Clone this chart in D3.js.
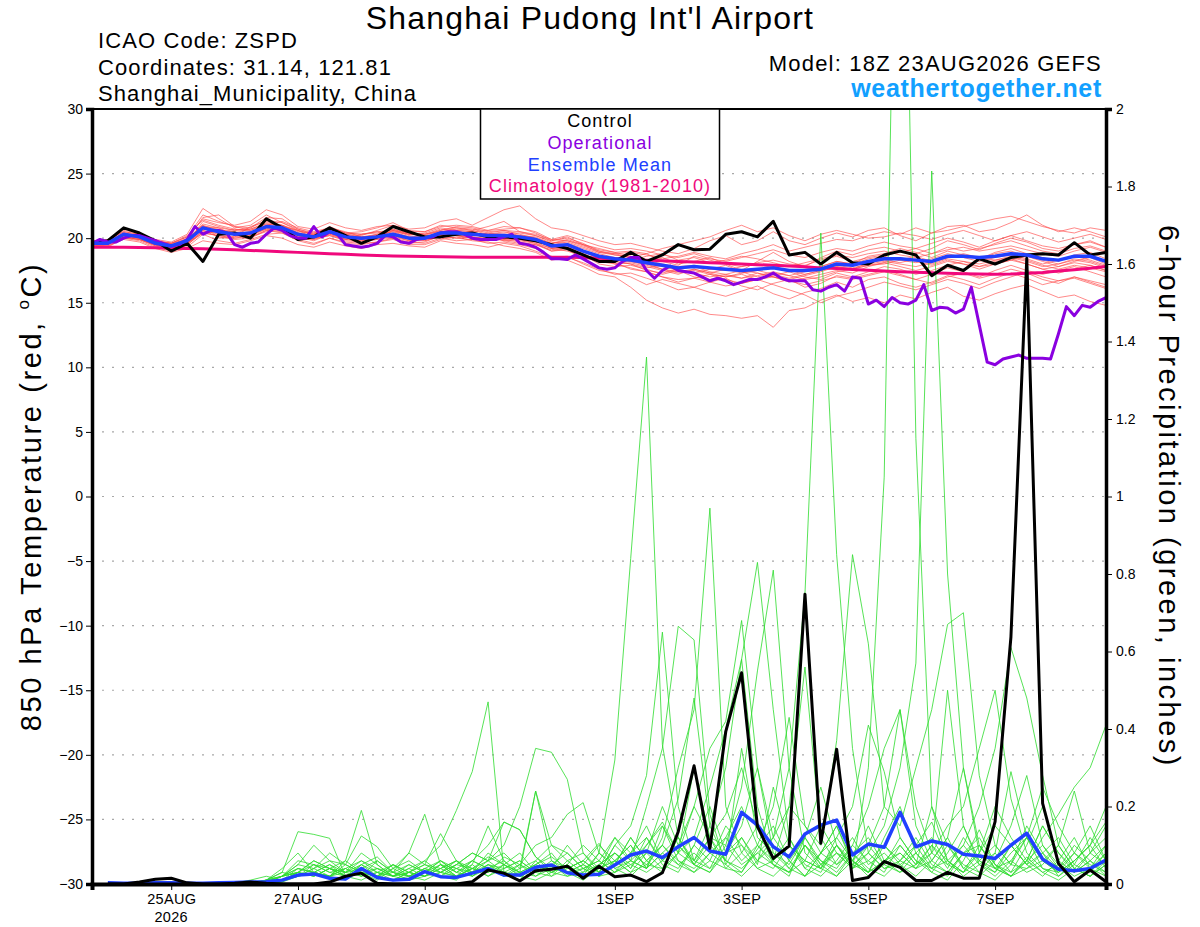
<!DOCTYPE html>
<html>
<head>
<meta charset="utf-8">
<script src="https://cdn.jsdelivr.net/npm/d3@7"></script>
<style>
  body { margin: 0; background: #fff; }
  text { font-family: "Liberation Sans", Arial, Helvetica, sans-serif; }
</style>
</head>
<body>
<div id="chart"></div>
<script>
// ---- data ----
const runStart = new Date(Date.UTC(2026, 7, 23, 18));   // 18Z 23AUG2026, 6-hourly to 384h

const tickDays   = ["2026-08-25", "2026-08-27", "2026-08-29", "2026-09-01", "2026-09-03", "2026-09-05", "2026-09-07"];
const tickLabels = ["25AUG", "27AUG", "29AUG", "1SEP", "3SEP", "5SEP", "7SEP"];
const tempTicks   = [-30, -25, -20, -15, -10, -5, 0, 5, 10, 15, 20, 25, 30];
const precipTicks = [0, 0.2, 0.4, 0.6, 0.8, 1, 1.2, 1.4, 1.6, 1.8, 2];
const legendItems = ["Control", "Operational", "Ensemble Mean", "Climatology (1981-2010)"];

// 850 hPa temperature, control run (6-hourly, 0..384h)
const controlTemp = [19.6,19.8,20.8,20.4,19.8,19.0,19.6,18.2,20.3,20.4,20.0,21.5,20.8,19.9,20.1,20.8,20.2,19.6,20.1,20.9,20.5,
  20.1,20.1,20.3,20.4,20.1,20.1,20.0,19.8,19.5,19.2,18.7,18.2,18.2,18.9,18.2,18.7,19.5,19.1,19.15,20.3,20.5,20.1,21.3,
  18.7,18.9,18.0,18.9,18.1,18.0,18.7,19.0,18.7,17.1,17.9,17.5,18.4,18.0,18.5,18.7,18.8,18.7,19.65,18.7,18.9];

// ensemble mean temperature
const meanTemp = [19.6,19.6,20.3,20.1,19.6,19.4,19.8,20.8,20.5,20.3,20.4,20.9,20.8,20.3,20.1,20.5,20.1,20.0,20.1,20.3,20.0,
  20.0,20.4,20.4,20.3,20.2,20.2,20.1,19.9,19.4,19.5,19.0,18.6,18.4,18.3,18.1,17.9,17.7,17.8,17.7,17.6,17.5,17.6,17.7,
  17.5,17.5,17.6,18.0,17.9,18.2,18.4,18.4,18.3,18.2,18.6,18.6,18.5,18.6,18.8,18.7,18.4,18.3,18.6,18.6,18.2];

// climatology (1981-2010)
const climTemp = [19.3,19.3,19.3,19.28,19.25,19.22,19.2,19.18,19.15,19.1,19.05,19.0,18.95,18.9,18.85,18.8,18.75,18.7,18.65,18.62,
  18.6,18.58,18.56,18.55,18.53,18.52,18.52,18.52,18.53,18.53,18.52,18.5,18.45,18.4,18.35,18.3,18.25,18.2,18.15,18.1,
  18.05,18.0,17.95,17.9,17.85,17.78,17.7,17.65,17.58,17.52,17.46,17.4,17.36,17.32,17.28,17.25,17.22,17.2,17.22,17.28,
  17.35,17.45,17.55,17.67,17.8];

// operational run temperature (3-hourly, 0..384h)
const operTemp = [19.6,19.9,19.7,19.7,20.0,20.2,20.2,20.0,19.8,19.6,19.4,19.5,19.9,20.9,20.3,20.6,20.6,20.4,19.5,19.3,
  19.6,19.7,20.3,20.8,20.6,20.2,20.0,20.0,20.9,20.1,20.5,20.3,19.5,19.4,19.3,19.4,19.6,20.2,20.1,19.7,
  19.6,19.9,20.0,20.1,20.4,20.5,20.5,20.3,20.0,19.9,19.9,19.9,20.1,20.3,19.6,19.5,19.3,18.9,18.4,18.4,
  18.35,18.7,18.4,18.05,17.7,17.6,17.7,18.2,18.5,18.5,17.5,16.9,17.5,17.85,17.5,17.4,17.3,17.0,16.7,16.9,
  16.7,16.4,16.6,16.8,16.8,17.0,17.3,16.9,16.7,16.7,16.7,16.0,15.9,16.2,16.4,15.9,17.0,16.9,14.9,15.2,
  14.7,15.4,15.0,14.9,15.2,16.4,14.4,14.65,14.6,14.2,14.5,16.2,13.3,10.4,10.2,10.65,10.8,10.95,10.7,10.7,
  10.7,10.65,12.6,14.7,14.0,14.8,14.65,15.1,15.4];

// ensemble member temperatures
const memberTemp = [
  [19.8,19.9,20.5,20.3,19.9,19.7,20.3,22.3, 21.5,20.8,21.0,21.8,21.2,20.6,20.2,20.9,20.4,20.5,20.8,21.2,20.6,
   20.5,21.0,20.8,20.6,20.9,21.3,20.5,20.2,19.8,20.1,19.5,18.9,18.7,18.5, 18.8,18.2,17.9,18.6,18.3,18.0,17.5,18.2,18.9,18.2,17.8,18.5,19.0,18.7,19.1,
   19.3,19.0,18.8,19.2,19.8,19.5,19.1,19.6,20.0,19.7,19.2,19.0,19.5,19.8,19.3],
  [19.3,19.4,19.9,19.7,19.2,18.9,19.2,19.8, 19.6,19.5,19.8,20.2,20.0,19.5,19.3,19.7,19.4,19.2,19.5,19.6,19.4,
   19.3,19.8,19.6,19.5,19.3,19.6,19.4,19.0,18.5,18.6,18.0,17.5,17.3,17.0, 16.4,16.8,16.5,16.2,16.6,16.9,16.3,16.0,16.5,16.8,16.2,16.5,17.1,16.9,17.2,
   17.5,17.2,16.8,16.5,17.0,17.3,16.9,17.2,17.6,17.3,16.8,16.5,17.0,16.7,16.4],
  [19.5,19.5,20.1,19.9,19.4,19.3,19.6,20.4, 20.2,20.0,20.1,20.6,20.5,20.0,19.9,20.2,19.8,19.7,19.9,20.0,19.7,
   19.6,20.0,19.8,19.9,19.6,19.7,19.5,19.2,18.6,18.3,17.8,17.2,17.0,16.2, 15.2,14.6,14.2,14.5,14.1,14.0,13.8,14.0,13.1,14.4,14.6,15.2,15.6,15.1,15.4,
   15.0,15.6,15.3,15.8,16.2,15.5,15.2,15.7,16.1,16.4,15.9,15.4,15.6,15.1,14.8],
  [19.7,19.8,20.6,20.4,19.8,19.6,20.1,21.5, 21.2,21.0,21.3,22.2,21.8,20.9,20.7,21.2,20.8,20.6,20.9,21.0,20.7,
   20.8,21.3,21.5,21.0,21.6,22.2,22.5,21.5,20.8,20.6,20.2,19.8,19.5,19.6, 19.3,19.0,18.8,19.2,19.8,20.2,19.5,19.8,20.5,19.8,19.5,20.0,20.4,20.1,20.6,
   20.8,20.2,19.8,20.4,20.9,21.0,20.5,20.7,21.2,21.8,21.0,20.5,20.8,20.5,20.1],
  [19.4,19.5,20.2,20.0,19.5,19.2,19.5,20.9, 20.8,20.2,20.1,20.5,20.9,20.6,20.0,20.2,19.9,20.3,20.5,20.2,19.9,
   20.1,20.3,20.6,20.5,20.0,19.8,19.6,19.5,19.1,19.3,18.7,18.0,17.8,17.9, 17.6,17.2,17.5,17.0,16.8,17.1,16.9,17.3,17.0,16.6,16.9,17.2,17.5,17.3,17.8,
   18.1,18.5,18.2,17.9,18.3,18.0,17.8,18.2,18.4,18.0,17.6,17.8,18.1,17.9,17.5],
  [19.6,19.7,20.4,20.2,19.7,19.5,20.0,21.0, 20.0,20.1,20.9,21.3,21.0,20.5,20.4,20.8,20.5,20.1,20.0,20.6,20.3,
   20.2,20.6,20.9,20.8,20.5,20.6,20.3,20.0,19.6,19.8,19.5,19.2,18.9,18.6, 18.3,18.5,18.0,18.2,18.5,18.0,17.8,18.1,18.3,18.0,17.9,18.3,18.6,18.2,18.5,
   18.7,18.9,19.2,18.8,19.1,19.3,19.0,19.2,19.4,19.1,18.8,18.6,19.0,19.3,18.9],
  [19.5,19.4,20.0,19.8,19.3,19.0,19.3,20.3, 19.8,19.6,19.9,20.3,20.4,19.9,19.6,20.0,19.6,19.5,19.7,19.9,19.5,
   19.5,19.9,20.1,19.8,19.7,19.4,19.2,18.9,18.3,18.5,18.1,17.6,17.2,17.3, 16.9,16.5,16.0,16.2,15.8,15.5,15.9,16.3,15.7,15.3,15.8,16.1,16.6,16.2,16.8,
   17.0,16.5,16.2,16.6,17.1,16.8,16.4,16.9,17.3,16.9,16.4,16.7,17.0,16.6,16.2],
  [19.7,19.6,20.3,20.2,19.7,19.6,19.9,20.7, 20.6,20.5,20.3,20.7,20.6,20.1,20.3,20.6,20.2,20.0,20.2,20.5,20.3,
   20.3,20.5,20.3,20.2,20.4,20.1,20.0,19.8,19.5,19.7,19.3,18.9,18.8,18.9, 18.7,18.4,18.6,18.9,18.6,18.4,18.8,19.1,19.5,19.0,19.3,19.6,19.9,19.8,20.2,
   20.5,20.3,20.8,20.4,20.6,20.9,21.2,21.5,21.7,21.3,20.9,20.6,20.4,20.8,20.6],
  [19.5,19.7,20.2,20.0,19.6,19.3,19.6,20.5, 20.4,20.7,20.6,21.1,21.0,20.4,20.0,20.4,19.9,19.8,19.9,20.4,20.1,
   19.8,20.2,20.0,20.1,19.9,20.3,20.2,20.0,19.2,19.0,18.6,18.5,18.0,18.1, 17.8,17.5,17.2,17.6,17.3,17.0,17.2,16.8,17.1,17.4,17.0,16.8,17.3,17.0,17.4,
   17.8,17.6,17.2,17.5,17.9,18.2,17.8,18.0,18.3,18.6,18.2,17.8,18.2,18.5,18.0],
  [19.6,19.5,20.2,20.0,19.5,19.2,19.6,21.3, 20.9,20.6,20.8,21.4,21.2,20.7,20.3,20.7,20.3,20.1,20.3,20.7,20.3,
   20.4,20.8,20.6,20.5,20.6,20.7,20.8,20.4,19.8,20.0,19.6,19.0,18.8,18.5, 18.0,17.8,17.5,17.3,17.6,17.9,17.4,17.0,17.3,17.1,17.4,17.8,18.2,18.0,18.6,
   18.8,19.2,18.9,18.5,19.0,18.7,18.4,18.9,19.2,18.8,18.5,18.2,18.7,18.9,18.4],
  [19.4,19.3,20.0,19.9,19.4,19.1,19.4,20.6, 20.1,19.9,20.0,20.6,20.4,19.8,19.5,20.0,19.7,19.6,19.7,20.0,19.6,
   19.7,20.2,20.3,20.4,20.1,19.9,19.7,19.5,19.0,19.2,18.8,18.3,18.1,17.6, 17.4,17.0,16.8,16.9,16.6,16.3,16.5,16.8,16.4,16.0,15.6,15.0,15.5,15.8,16.2,
   16.6,16.3,16.0,16.4,16.8,16.5,16.1,16.6,17.0,17.4,17.0,16.7,16.9,16.5,16.1],
  [19.8,19.8,20.5,20.3,19.8,19.6,20.1,21.8, 21.3,20.9,20.6,21.0,21.3,20.8,20.5,20.8,20.4,20.3,20.5,20.6,20.2,
   20.0,20.5,20.7,20.6,20.3,20.4,20.4,20.2,19.7,19.6,19.2,18.8,18.5,18.3, 18.6,18.8,18.3,18.5,18.1,18.3,18.6,18.4,18.1,17.8,18.1,18.4,18.7,18.5,18.8,
   19.0,18.7,18.5,18.8,19.3,19.0,19.2,19.5,19.8,19.4,19.0,18.8,19.2,19.4,19.0],
  [19.5,19.6,20.1,19.9,19.5,19.3,19.7,20.9, 20.7,20.4,20.2,20.8,20.7,20.2,20.0,20.3,20.0,19.9,20.1,20.3,20.0,
   20.0,20.4,20.2,20.0,20.2,19.8,19.9,19.6,19.2,19.4,19.0,18.4,18.2,18.0, 17.5,17.3,17.6,17.8,17.4,17.2,16.9,17.1,17.4,17.1,16.8,17.0,17.4,17.6,17.9,
   18.0,18.3,18.6,18.2,18.5,18.8,18.5,18.3,18.6,18.3,17.9,17.6,17.9,17.7,17.4],
  [19.7,19.7,20.4,20.2,19.6,19.5,19.9,21.0, 20.6,20.4,20.7,21.1,20.9,20.4,20.2,20.6,20.2,20.1,20.2,20.6,20.4,
   20.3,20.7,20.5,20.4,20.3,20.5,20.2,20.1,19.6,19.9,19.5,19.1,18.9,19.0, 18.8,19.2,19.5,19.8,20.1,20.6,21.0,20.5,20.8,20.2,19.8,20.3,20.6,20.3,20.0,
   20.1,20.4,20.2,19.9,20.3,20.6,20.2,19.8,20.2,20.5,20.1,19.7,20.0,20.3,19.9],
  [19.5,19.6,20.3,20.0,19.5,19.3,19.6,20.6, 20.3,20.1,20.3,20.8,20.6,20.1,19.8,20.3,19.9,19.8,20.0,20.2,19.8,
   19.9,20.3,20.2,20.0,19.8,20.0,19.8,19.6,19.0,19.1,18.5,18.2,18.0,17.7, 17.4,17.0,16.6,16.9,17.2,16.8,16.5,16.8,17.0,16.7,16.4,16.7,17.0,16.8,17.1,
   17.4,17.1,16.8,17.2,17.7,17.4,17.0,17.5,17.9,17.5,17.2,17.5,17.8,17.4,17.0],
  [19.6,19.6,20.2,20.1,19.6,19.4,19.8,21.1, 20.8,20.6,20.7,21.2,21.0,20.6,20.3,20.8,20.4,20.3,20.4,20.7,20.4,
   20.3,20.6,20.8,20.7,20.4,20.6,20.5,20.3,19.9,19.8,19.4,19.0,18.7,18.6, 18.3,18.0,17.8,17.9,17.6,17.5,17.8,18.0,17.7,17.4,17.6,17.8,18.2,18.0,18.4,
   18.6,18.3,18.1,18.4,18.8,18.5,18.2,18.5,18.7,18.4,18.0,18.3,18.6,18.3,17.9],
  [19.7,19.8,20.3,20.2,19.8,19.6,20.2,21.4, 21.0,20.7,20.5,20.9,20.8,20.3,20.1,20.4,20.1,20.0,20.3,20.5,20.1,
   20.1,20.5,20.4,20.3,20.1,20.2,20.0,19.9,19.4,19.5,19.0,18.6,18.3,18.2, 18.0,17.6,17.4,17.6,17.3,17.6,17.3,17.5,17.8,17.5,17.2,17.5,17.9,17.7,18.0,
   18.2,18.0,17.8,18.1,18.5,18.7,18.4,18.8,19.0,18.6,18.3,18.0,18.4,18.2,17.8],
  [19.4,19.5,20.1,19.9,19.5,19.2,19.5,20.4, 20.2,20.0,20.2,20.7,20.6,20.2,19.9,20.4,20.0,19.9,20.0,20.1,19.8,
   19.8,20.1,20.0,19.9,20.0,19.9,20.0,19.8,19.3,19.2,18.7,18.3,18.2,18.0, 17.7,17.9,17.6,17.3,17.0,17.2,17.5,17.3,17.0,16.8,17.1,17.4,17.8,17.6,18.1,
   18.3,18.1,18.4,18.0,18.4,18.2,18.0,18.3,18.5,18.2,17.8,18.0,18.3,18.1,17.7],
  [19.6,19.7,20.4,20.1,19.6,19.4,19.9,21.6, 21.8,20.9,20.8,21.6,21.5,20.7,20.4,20.7,20.3,20.2,20.6,21.0,20.5,
   20.5,20.9,21.0,20.9,20.6,20.9,20.8,20.5,19.9,20.2,19.8,19.4,19.1,19.2, 19.0,18.7,18.5,18.8,18.4,18.2,18.5,18.8,19.1,18.7,18.5,18.9,19.2,19.0,19.4,
   19.7,19.4,19.2,19.6,20.0,19.7,19.3,19.8,20.2,19.8,19.4,19.2,19.5,19.7,19.3],
  [19.5,19.5,20.2,20.0,19.5,19.3,19.7,20.8, 20.5,20.3,20.4,20.9,20.7,20.2,20.0,20.4,20.1,19.9,20.1,20.3,20.0,
   20.0,20.3,20.2,20.1,20.0,20.0,19.9,19.7,19.2,19.3,18.9,18.5,18.3,18.2, 17.9,17.6,17.3,17.5,17.2,17.0,17.3,17.5,17.2,16.9,17.2,17.5,17.8,17.6,17.9,
   18.1,17.8,17.5,17.8,18.2,18.0,17.6,18.0,18.3,18.0,17.6,17.3,17.6,17.9,17.5]
];

// 6-hour precipitation (inches), steps 6h..384h
const controlPrecip = [0,0,0.005,0.012,0.015,0.003,0,0,0.002,0.005, 0.002,0,0,0,0.005,0.02,0.028,0.002,0,0,
  0,0,0,0.006,0.036,0.028,0.008,0.034,0.038,0.046, 0.015,0.046,0.019,0.023,0.006,0.029,0.135,0.305,0.092,0.393,
  0.545,0.148,0.066,0.098,0.748,0.105,0.348,0.009,0.017,0.058, 0.043,0.009,0.009,0.03,0.015,0.015,0.161,0.638,1.615,0.208,
  0.053,0.006,0.036,0.006];

const meanPrecip = [0.003,0.002,0.002,0.003,0.003,0.002,0.002,0.003,0.004,0.005, 0.006,0.01,0.023,0.026,0.015,0.013,0.04,0.017,0.01,0.012,
  0.032,0.019,0.017,0.028,0.04,0.023,0.023,0.043,0.049,0.029, 0.023,0.025,0.049,0.075,0.085,0.068,0.096,0.12,0.085,0.077,
  0.185,0.152,0.096,0.07,0.129,0.152,0.165,0.075,0.103,0.095, 0.185,0.096,0.111,0.102,0.077,0.072,0.066,0.1,0.131,0.064,
  0.038,0.034,0.04,0.062];

const memberPrecip = [
  [0,0,0,0,0,0,0,0,0,0.005, 0.01,0.03,0.135,0.128,0.118,0.02,0.01,0.03,0.01,0.02, 0.04,0.02,0.01,0.05,0.15,0.06,0.02,0.01,0.03,0.05,
   0.02,0.08,0.32,0.84,1.36,0.36,0.12,0.05,0.03,0.08, 0.1,0.04,0.02,0.06,0.12,0.05,0.02,0.08,0.04,0.02, 0.06,0.1,0.04,0.02,0.08,0.03,0.01,0.05,0.12,0.06, 0.03,0.08,0.04,0.1],
  [0,0,0,0,0,0,0,0,0.003,0.01, 0.02,0.01,0.04,0.03,0.02,0.06,0.19,0.05,0.02,0.01, 0.03,0.06,0.04,0.02,0.05,0.03,0.01,0.06,0.02,0.04,
   0.06,0.03,0.1,0.15,0.28,0.65,0.2,0.06,0.12,0.04, 0.03,0.09,0.15,0.06,0.02,0.05,0.1,0.04,0.3,1.05, 3.3,1.15,0.2,0.06,0.03,0.1,0.05,0.02,0.04,0.08, 0.02,0.05,0.12,0.06],
  [0,0,0,0,0,0,0,0,0,0, 0.005,0.02,0.06,0.05,0.03,0.02,0.04,0.02,0.01,0.03, 0.06,0.1,0.19,0.29,0.47,0.03,0.02,0.05,0.08,0.03,
   0.01,0.04,0.12,0.06,0.2,0.35,0.665,0.63,0.18,0.05, 0.02,0.06,0.1,0.04,0.02,0.08,0.15,0.05,0.03,0.12, 0.2,0.08,0.03,0.01,0.06,0.14,0.05,0.02,0.07,0.03, 0.01,0.04,0.02,0.05],
  [0,0,0,0,0,0,0,0,0,0.002, 0.01,0.04,0.08,0.03,0.02,0.01,0.05,0.07,0.03,0.02, 0.01,0.03,0.05,0.08,0.06,0.1,0.2,0.35,0.34,0.27,
   0.08,0.03,0.05,0.12,0.06,0.1,0.22,0.48,0.15,0.06, 0.03,0.1,0.05,0.02,0.12,0.25,0.1,0.04,0.08,0.15, 0.3,0.57,1.84,0.8,0.3,0.1,0.04,0.02,0.06,0.15, 0.08,0.03,0.06,0.02],
  [0,0,0,0,0,0,0,0,0,0, 0.01,0.02,0.03,0.06,0.04,0.02,0.03,0.01,0.04,0.08, 0.18,0.05,0.02,0.04,0.03,0.07,0.05,0.02,0.04,0.1,
   0.05,0.02,0.06,0.1,0.04,0.12,0.3,0.45,0.97,0.2, 0.08,0.15,0.05,0.03,0.1,0.04,0.02,0.06,0.1,0.05, 0.03,0.08,0.12,0.05,0.1,0.2,0.35,0.61,0.48,0.28, 0.1,0.04,0.02,0.05],
  [0,0,0,0,0,0,0,0,0,0, 0,0.01,0.02,0.05,0.03,0.04,0.02,0.06,0.03,0.01, 0.02,0.04,0.06,0.03,0.05,0.02,0.04,0.06,0.1,0.08,
   0.04,0.06,0.03,0.08,0.15,0.06,0.1,0.2,0.35,0.42, 0.68,0.3,0.12,0.06,0.02,0.08,0.15,0.06,0.03,0.1, 0.05,0.02,0.06,0.12,0.04,0.08,0.15,0.1,0.05,0.12, 0.18,0.25,0.3,0.41],
  [0,0,0,0,0,0,0,0,0,0, 0.005,0.02,0.05,0.1,0.06,0.03,0.02,0.04,0.02,0.03, 0.05,0.13,0.06,0.02,0.04,0.06,0.03,0.02,0.05,0.03,
   0.02,0.05,0.08,0.04,0.1,0.16,0.08,0.12,0.25,0.4, 0.58,0.2,0.06,0.1,0.04,0.02,0.06,0.12,0.05,0.08, 0.04,0.1,0.16,0.06,0.02,0.05,0.08,0.03,0.1,0.2, 0.06,0.12,0.04,0.02],
  [0,0,0,0,0,0,0,0,0,0, 0.01,0.03,0.02,0.04,0.08,0.05,0.03,0.02,0.05,0.03, 0.02,0.05,0.03,0.06,0.1,0.16,0.14,0.07,0.03,0.05,
   0.1,0.06,0.03,0.05,0.08,0.04,0.12,0.06,0.15,0.3, 0.58,0.83,0.45,0.12,0.05,0.03,0.1,0.06,0.02,0.05, 0.12,0.06,0.03,0.08,0.15,0.05,0.02,0.06,0.12,0.04, 0.02,0.06,0.1,0.04],
  [0,0,0,0,0,0,0,0,0,0, 0,0.01,0.03,0.02,0.04,0.03,0.05,0.02,0.03,0.05, 0.03,0.02,0.05,0.04,0.07,0.05,0.03,0.24,0.1,0.06,
   0.03,0.08,0.05,0.12,0.06,0.03,0.08,0.2,0.12,0.1, 0.25,0.55,0.81,0.3,0.08,0.04,0.12,0.06,0.15,0.06, 0.03,0.05,0.1,0.04,0.12,0.06,0.03,0.1,0.05,0.02, 0.06,0.03,0.08,0.12],
  [0,0,0,0,0,0,0,0,0,0, 0.005,0.01,0.02,0.03,0.02,0.04,0.06,0.03,0.02,0.04, 0.02,0.03,0.06,0.04,0.02,0.05,0.08,0.03,0.06,0.04,
   0.06,0.03,0.08,0.04,0.12,0.05,0.03,0.1,0.06,0.15, 0.1,0.06,0.12,0.3,0.75,1.68,0.85,0.35,0.08,0.04, 0.06,0.12,0.05,0.03,0.08,0.1,0.04,0.02,0.06,0.03, 0.05,0.02,0.04,0.08],
  [0,0,0,0,0,0,0,0,0,0, 0.01,0.02,0.04,0.03,0.05,0.02,0.04,0.06,0.03,0.02, 0.04,0.03,0.02,0.06,0.04,0.03,0.05,0.1,0.12,0.18,
   0.21,0.08,0.04,0.06,0.1,0.15,0.06,0.04,0.08,0.12, 0.06,0.1,0.2,0.43,0.15,0.08,0.12,0.2,0.41,0.29, 0.12,0.06,0.04,0.1,0.05,0.03,0.08,0.29,0.12,0.06, 0.1,0.24,0.08,0.05],
  [0,0,0,0,0,0,0,0,0,0, 0,0.01,0.03,0.06,0.04,0.02,0.05,0.03,0.02,0.04, 0.06,0.03,0.05,0.08,0.06,0.16,0.14,0.07,0.04,0.03,
   0.05,0.1,0.06,0.03,0.08,0.2,0.1,0.05,0.12,0.18, 0.3,0.15,0.06,0.2,0.56,0.12,0.05,0.08,0.03,0.06, 0.1,0.05,0.08,0.15,0.2,0.35,0.5,0.22,0.08,0.04, 0.03,0.06,0.1,0.16],
  [0,0,0,0,0,0,0,0,0,0, 0.005,0.02,0.03,0.05,0.04,0.06,0.03,0.02,0.05,0.03, 0.02,0.05,0.04,0.03,0.06,0.08,0.04,0.24,0.06,0.03,
   0.05,0.03,0.1,0.06,0.04,0.08,0.12,0.05,0.03,0.1, 0.05,0.08,0.12,0.2,0.15,0.1,0.37,0.85,0.62,0.2, 0.45,0.15,0.06,0.03,0.08,0.12,0.05,0.03,0.06,0.1, 0.04,0.08,0.15,0.06],
  [0,0,0,0,0,0,0,0,0,0, 0.01,0.02,0.05,0.04,0.06,0.05,0.124,0.096,0.04,0.02, 0.03,0.06,0.03,0.05,0.02,0.04,0.06,0.03,0.05,0.08,
   0.04,0.06,0.12,0.08,0.05,0.1,0.06,0.03,0.08,0.05, 0.12,0.06,0.04,0.1,0.06,0.15,0.08,0.04,0.1,0.2, 0.15,0.3,0.45,0.67,0.7,0.28,0.1,0.05,0.15,0.08, 0.04,0.1,0.06,0.03],
  [0,0,0,0,0,0,0,0,0,0, 0,0.005,0.02,0.03,0.05,0.03,0.06,0.04,0.03,0.08, 0.05,0.04,0.06,0.03,0.08,0.05,0.03,0.05,0.07,0.04,
   0.06,0.105,0.04,0.02,0.06,0.1,0.05,0.08,0.04,0.12, 0.2,0.1,0.06,0.12,0.04,0.08,0.05,0.1,0.2,0.35, 0.45,0.2,0.08,0.5,0.15,0.06,0.04,0.1,0.05,0.08, 0.12,0.05,0.03,0.08],
  [0,0,0,0,0,0,0,0,0,0, 0.005,0.01,0.02,0.04,0.02,0.05,0.03,0.02,0.04,0.06, 0.03,0.02,0.04,0.06,0.04,0.02,0.05,0.03,0.02,0.06,
   0.08,0.04,0.06,0.1,0.04,0.15,0.08,0.3,0.12,0.06, 0.35,0.12,0.08,0.04,0.1,0.06,0.03,0.08,0.12,0.05, 0.08,0.04,0.1,0.06,0.03,0.08,0.2,0.12,0.06,0.15, 0.08,0.04,0.02,0.06],
  [0,0,0,0,0,0,0,0,0,0, 0,0.005,0.03,0.02,0.04,0.03,0.08,0.05,0.02,0.03, 0.05,0.03,0.02,0.04,0.06,0.03,0.02,0.04,0.05,0.03,
   0.04,0.02,0.05,0.08,0.12,0.06,0.04,0.1,0.2,0.08, 0.15,0.3,0.08,0.05,0.12,0.06,0.04,0.1,0.06,0.03, 0.1,0.05,0.2,0.1,0.04,0.02,0.06,0.15,0.28,0.1, 0.05,0.03,0.06,0.1],
  [0,0,0,0,0,0,0,0,0,0, 0.005,0.02,0.04,0.03,0.02,0.04,0.02,0.03,0.05,0.02, 0.04,0.06,0.03,0.02,0.05,0.04,0.06,0.03,0.05,0.02,
   0.03,0.05,0.08,0.05,0.03,0.06,0.1,0.06,0.04,0.08, 0.12,0.05,0.25,0.1,0.06,0.04,0.08,0.06,0.03,0.06, 0.08,0.04,0.06,0.12,0.3,0.08,0.04,0.06,0.03,0.05, 0.1,0.04,0.08,0.15],
  [0,0,0,0,0,0,0,0,0,0, 0,0.01,0.02,0.03,0.02,0.03,0.04,0.02,0.01,0.03, 0.02,0.04,0.02,0.03,0.04,0.02,0.03,0.05,0.03,0.02,
   0.04,0.02,0.03,0.06,0.04,0.08,0.05,0.03,0.06,0.04, 0.08,0.04,0.06,0.03,0.1,0.05,0.08,0.04,0.06,0.1, 0.06,0.04,0.08,0.05,0.03,0.06,0.1,0.05,0.04,0.06, 0.03,0.06,0.1,0.2],
  [0,0,0,0,0,0,0,0,0,0, 0.005,0.02,0.03,0.02,0.04,0.02,0.03,0.04,0.02,0.05, 0.03,0.05,0.02,0.04,0.03,0.05,0.02,0.04,0.03,0.05,
   0.02,0.04,0.06,0.03,0.05,0.04,0.08,0.05,0.1,0.06, 0.04,0.08,0.05,0.03,0.06,0.04,0.1,0.05,0.08,0.04, 0.05,0.08,0.04,0.06,0.1,0.05,0.03,0.08,0.12,0.25, 0.15,0.08,0.05,0.03]
];

// ---- layout ----
const W = 1200, H = 927;
const plot = {left: 92, right: 1106, top: 109, bottom: 884};

const colors = {
  member: "#ff4646", precip: "#2fdc2f", control: "#000000",
  oper: "#8a00e0", mean: "#2040ff", clim: "#f0087c", site: "#12a0ff"
};

const svg = d3.select("#chart")
  .append("svg")
    .attr("width", W)
    .attr("height", H)
    .style("background", "#fff");

// scales
const x = d3.scaleUtc()
    .domain([runStart, d3.utcHour.offset(runStart, 384)])
    .range([plot.left, plot.right]);

const yT = d3.scaleLinear().domain([-30, 30]).range([plot.bottom, plot.top]);
const yP = d3.scaleLinear().domain([0, 2]).range([plot.bottom, plot.top]);

const t6 = i => d3.utcHour.offset(runStart, 6 * i);
const t3 = k => d3.utcHour.offset(runStart, 3 * k);

svg.append("clipPath").attr("id", "plotclip")
  .append("rect")
    .attr("x", plot.left).attr("y", plot.top)
    .attr("width", plot.right - plot.left).attr("height", plot.bottom - plot.top);

// dotted grid at temperature ticks
svg.append("g")
  .selectAll("line")
  .data(tempTicks.filter(d => d > -30 && d < 30))
  .join("line")
    .attr("x1", plot.left).attr("x2", plot.right)
    .attr("y1", d => yT(d)).attr("y2", d => yT(d))
    .attr("stroke", "#a8a8a8")
    .attr("stroke-width", 1.2)
    .attr("stroke-dasharray", "2,8");

const g = svg.append("g").attr("clip-path", "url(#plotclip)");

const tempLine = d3.line().x((d, i) => x(t6(i))).y(d => yT(d));
const operLine = d3.line().x((d, k) => x(t3(k))).y(d => yT(d));
const precipLine = d3.line().x((d, i) => x(t6(i + 1))).y(d => yP(d));

// ensemble members
g.append("g")
  .selectAll("path")
  .data(memberTemp)
  .join("path")
    .attr("d", tempLine)
    .attr("fill", "none")
    .attr("stroke", colors.member)
    .attr("stroke-opacity", 0.8)
    .attr("stroke-width", 0.8);

g.append("g")
  .selectAll("path")
  .data(memberPrecip)
  .join("path")
    .attr("d", precipLine)
    .attr("fill", "none")
    .attr("stroke", colors.precip)
    .attr("stroke-opacity", 0.9)
    .attr("stroke-width", 0.9);

// thick lines
function thick(data, gen, color, w) {
  g.append("path")
    .datum(data)
    .attr("d", gen)
    .attr("fill", "none")
    .attr("stroke", color)
    .attr("stroke-width", w)
    .attr("stroke-linejoin", "round");
}
thick(climTemp, tempLine, colors.clim, 3);
thick(controlTemp, tempLine, colors.control, 3);
thick(operTemp, operLine, colors.oper, 3);
thick(meanTemp, tempLine, colors.mean, 3.5);
thick(meanPrecip, precipLine, colors.mean, 3.5);
thick(controlPrecip, precipLine, colors.control, 3);

// frame
svg.append("line")
  .attr("x1", plot.left).attr("x2", plot.right)
  .attr("y1", plot.top).attr("y2", plot.top)
  .attr("stroke", "#000").attr("stroke-width", 2);

// axes
const axL = svg.append("g")
  .attr("transform", `translate(${plot.left},0)`)
  .call(d3.axisLeft(yT).tickValues(tempTicks).tickSize(6).tickPadding(3));
const axR = svg.append("g")
  .attr("transform", `translate(${plot.right},0)`)
  .call(d3.axisRight(yP).tickValues(precipTicks).tickFormat(d3.format("~g")).tickSize(6).tickPadding(4));
const axB = svg.append("g")
  .attr("transform", `translate(0,${plot.bottom})`)
  .call(d3.axisBottom(x)
    .tickValues(tickDays.map(d => new Date(d + "T00:00:00Z")))
    .tickFormat((d, i) => tickLabels[i])
    .tickSize(6).tickPadding(4));

[axL, axR, axB].forEach(a => {
  a.selectAll("text").attr("font-size", 14).attr("fill", "#000")
    .style("font-family", "'Liberation Sans', Arial, sans-serif");
  a.selectAll(".tick line").attr("stroke", "#000").attr("stroke-width", 1);
});
axL.select(".domain").attr("stroke-width", 3.5);
axR.select(".domain").attr("stroke-width", 3.5);
axB.select(".domain").attr("stroke-width", 4);
axB.selectAll("text").attr("font-size", 14.5).attr("letter-spacing", 0.3);

// year under first date tick
svg.append("text")
  .attr("x", x(new Date(tickDays[0] + "T00:00:00Z")))
  .attr("y", 922)
  .attr("text-anchor", "middle")
  .attr("font-size", 14.5)
  .attr("letter-spacing", 0.3)
  .text("2026");

// axis titles
svg.append("text")
  .attr("transform", `translate(41,${(plot.top + plot.bottom) / 2}) rotate(-90)`)
  .attr("text-anchor", "middle")
  .attr("font-size", 29)
  .attr("letter-spacing", 2.6)
  .call(t => {
    t.append("tspan").text("850 hPa Temperature (red, ");
    t.append("tspan").attr("font-size", 17).attr("dy", -12).text("o");
    t.append("tspan").attr("dy", 12).text("C)");
  });

svg.append("text")
  .attr("transform", `translate(1159,${(plot.top + plot.bottom) / 2}) rotate(90)`)
  .attr("text-anchor", "middle")
  .attr("font-size", 29)
  .attr("letter-spacing", 2.5)
  .text("6-hour Precipitation (green, inches)");

// header texts
svg.append("text").attr("x", 590).attr("y", 29).attr("text-anchor", "middle")
  .attr("font-size", 32).attr("letter-spacing", 1.2).text("Shanghai Pudong Int'l Airport");

const info = ["ICAO Code: ZSPD", "Coordinates: 31.14, 121.81", "Shanghai_Municipality, China"];
svg.append("g").selectAll("text").data(info).join("text")
  .attr("x", 98).attr("y", (d, i) => 48 + i * 26.5)
  .attr("font-size", 22).attr("letter-spacing", 1.1).text(d => d);

svg.append("text").attr("x", 1102).attr("y", 71).attr("text-anchor", "end")
  .attr("font-size", 22).attr("letter-spacing", 1.2).text("Model: 18Z 23AUG2026 GEFS");
svg.append("text").attr("x", 1102).attr("y", 97).attr("text-anchor", "end")
  .attr("font-size", 25).attr("font-weight", "bold").attr("letter-spacing", 0.7).attr("fill", colors.site)
  .text("weathertogether.net");

// legend
const legendColors = [colors.control, colors.oper, colors.mean, colors.clim];
svg.append("rect")
  .attr("x", 480.5).attr("y", plot.top).attr("width", 239).attr("height", 90)
  .attr("fill", "#fff").attr("stroke", "#000").attr("stroke-width", 1.5);
svg.append("g").selectAll("text").data(legendItems).join("text")
  .attr("x", 600).attr("y", (d, i) => 127 + i * 21.8)
  .attr("text-anchor", "middle")
  .attr("font-size", 18)
  .attr("letter-spacing", 1.1)
  .attr("fill", (d, i) => legendColors[i])
  .text(d => d);
</script>
</body>
</html>
